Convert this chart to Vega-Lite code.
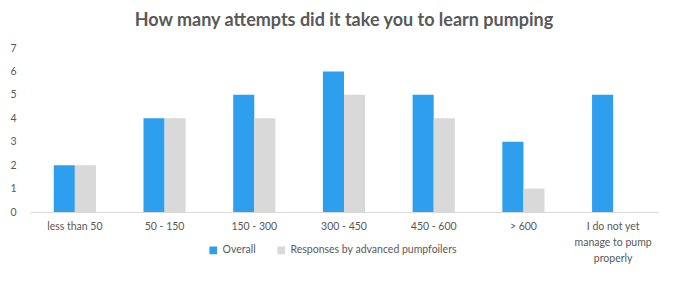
{
  "$schema": "https://vega.github.io/schema/vega-lite/v6.json",
  "width": 628,
  "height": 164,
  "autosize": {"type": "none"},
  "padding": {"left": 30, "top": 48, "right": 17, "bottom": 76},
  "background": "white",
  "title": {
    "text": "How many attempts did it take you to learn pumping",
    "font": "Lato",
    "fontSize": 18,
    "fontWeight": "bold",
    "color": "#595959",
    "anchor": "middle",
    "offset": 13
  },
  "config": {
    "view": {"stroke": null},
    "font": "Lato"
  },
  "data": {
    "values": [
      {"cat": "less than 50", "series": "Overall", "value": 2},
      {"cat": "less than 50", "series": "Responses by advanced pumpfoilers", "value": 2},
      {"cat": "50 - 150", "series": "Overall", "value": 4},
      {"cat": "50 - 150", "series": "Responses by advanced pumpfoilers", "value": 4},
      {"cat": "150 - 300", "series": "Overall", "value": 5},
      {"cat": "150 - 300", "series": "Responses by advanced pumpfoilers", "value": 4},
      {"cat": "300 - 450", "series": "Overall", "value": 6},
      {"cat": "300 - 450", "series": "Responses by advanced pumpfoilers", "value": 5},
      {"cat": "450 - 600", "series": "Overall", "value": 5},
      {"cat": "450 - 600", "series": "Responses by advanced pumpfoilers", "value": 4},
      {"cat": "> 600", "series": "Overall", "value": 3},
      {"cat": "> 600", "series": "Responses by advanced pumpfoilers", "value": 1},
      {"cat": "I do not yet manage to pump properly", "series": "Overall", "value": 5},
      {"cat": "I do not yet manage to pump properly", "series": "Responses by advanced pumpfoilers", "value": 0}
    ]
  },
  "mark": {"type": "bar"},
  "encoding": {
    "x": {
      "field": "cat",
      "type": "nominal",
      "sort": null,
      "title": null,
      "scale": {"paddingInner": 0.53, "paddingOuter": 0.265},
      "axis": {
        "labelAngle": 0,
        "domainColor": "#d9d9d9",
        "domainWidth": 1,
        "ticks": false,
        "labelColor": "#595959",
        "labelFontSize": 10.5,
        "labelPadding": 9,
        "labelLimit": 200,
        "labelLineHeight": 16,
        "labelExpr": "datum.value == 'I do not yet manage to pump properly' ? ['I do not yet', 'manage to pump', 'properly'] : datum.value"
      }
    },
    "xOffset": {"field": "series", "type": "nominal"},
    "y": {
      "field": "value",
      "type": "quantitative",
      "title": null,
      "scale": {"domain": [0, 7]},
      "axis": {
        "values": [0, 1, 2, 3, 4, 5, 6, 7],
        "domain": false,
        "ticks": false,
        "grid": false,
        "labelColor": "#595959",
        "labelFontSize": 10.5,
        "labelPadding": 14
      }
    },
    "color": {
      "field": "series",
      "type": "nominal",
      "scale": {
        "domain": ["Overall", "Responses by advanced pumpfoilers"],
        "range": ["#2E9FEF", "#D9D9D9"]
      },
      "legend": {
        "title": null,
        "orient": "none",
        "legendX": 178,
        "legendY": 197,
        "direction": "horizontal",
        "symbolType": "square",
        "symbolSize": 60,
        "symbolStrokeWidth": 0,
        "labelColor": "#595959",
        "labelFontSize": 10.5,
        "labelLimit": 300,
        "columnPadding": 20
      }
    }
  }
}
